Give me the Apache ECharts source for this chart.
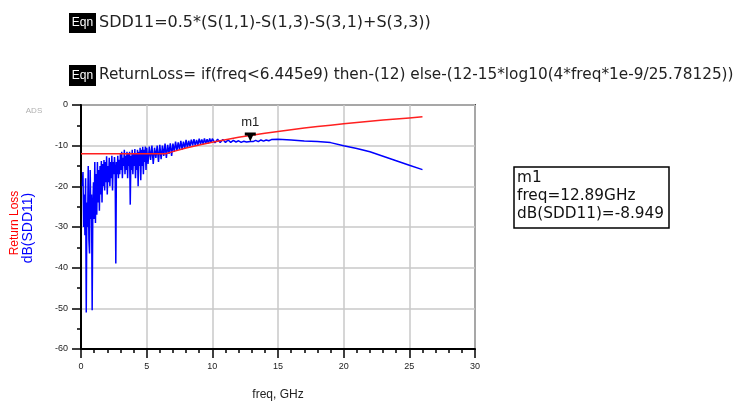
<!DOCTYPE html>
<html><head><meta charset="utf-8">
<script src="https://cdn.jsdelivr.net/npm/echarts@6/dist/echarts.min.js"></script>
<style>html,body{margin:0;padding:0;background:#fff}#c{width:741px;height:406px}</style>
</head><body><div id="c"></div>
<script>
// ---- text ----
const eqn1Text = 'SDD11=0.5*(S(1,1)-S(1,3)-S(3,1)+S(3,3))';
const eqn2Text = 'ReturnLoss= if(freq<6.445e9) then-(12) else-(12-15*log10(4*freq*1e-9/25.78125))';
const xAxisName = 'freq, GHz';
const yNameRed = 'Return Loss';
const yNameBlue = 'dB(SDD11)';
const markerLines = ['m1', 'freq=12.89GHz', 'dB(SDD11)=-8.949'];

// ---- axes ----
const xMin = 0, xMax = 30, xStep = 5;
const yMin = -60, yMax = 0, yStep = 10;

// ---- Return Loss (red) ----
const returnLossFreq = [0, 6.445, 7, 8, 9, 10, 11, 12, 13, 14, 15, 16, 17, 18, 19, 20, 21, 22, 23, 24, 25, 26];
const returnLossDb = [-12, -12, -11.46, -10.59, -9.83, -9.14, -8.52, -7.95, -7.43, -6.95, -6.50, -6.08, -5.68, -5.31, -4.96, -4.62, -4.31, -4.00, -3.71, -3.44, -3.17, -2.91];

// ---- dB(SDD11) (blue) ----
const sdd11Freq = [
  0.10,0.15,0.20,0.25,0.30,0.35,0.40,0.45,0.50,0.55,0.60,0.65,0.70,0.75,0.80,0.85,0.90,0.95,
  1.00,1.05,1.10,1.15,1.20,1.25,1.30,1.35,1.40,1.45,1.50,1.55,1.60,1.65,1.70,1.75,1.80,1.85,1.90,1.95,
  2.00,2.05,2.10,2.15,2.20,2.25,2.30,2.35,2.40,2.45,2.50,2.55,2.60,2.65,2.70,2.75,2.80,2.85,2.90,2.95,
  3.00,3.05,3.10,3.15,3.20,3.25,3.30,3.35,3.40,3.45,3.50,3.55,3.60,3.65,3.70,3.75,3.80,3.85,3.90,3.95,
  4.00,4.05,4.10,4.15,4.20,4.25,4.30,4.35,4.40,4.45,4.50,4.55,4.60,4.65,4.70,4.75,4.80,4.85,4.90,4.95,
  5.0,5.1,5.2,5.3,5.4,5.5,5.6,5.7,5.8,5.9,6.0,6.1,6.2,6.3,6.4,6.5,6.6,6.7,6.8,6.9,
  7.0,7.1,7.2,7.3,7.4,7.5,7.6,7.7,7.8,7.9,8.0,8.1,8.2,8.3,8.4,8.5,8.6,8.7,8.8,8.9,
  9.0,9.1,9.2,9.3,9.4,9.5,9.6,9.7,9.8,9.9,10.0,10.2,10.4,10.6,10.8,11.0,11.2,11.4,11.6,11.8,
  12.0,12.2,12.4,12.6,12.89,13.1,13.3,13.5,13.7,13.9,14.1,14.3,14.5,15,16,17,18,19,20,21,22,23,24,25,26
];
const sdd11Db = [
  -20,-16.5,-30,-22,-32,-18,-51,-24,-30,-15,-33,-36.5,-16,-28,-22,-50.5,-25,-19,
  -28,-14,-29,-17,-27,-14,-24,-16,-26,-15,-22,-13.8,-24,-14.5,-20,-13.5,-21,-14,-19,-12.6,
  -22,-15,-19,-13,-20,-14,-18,-12.5,-21,-14,-17,-12.8,-16,-39,-14,-17,-12.5,-18,-13.5,-17,
  -12,-16,-11.5,-18,-13,-15,-11,-17,-12.5,-16,-11.5,-18,-12,-15,-11.5,-24.5,-12.5,-16,-11,-17,
  -12,-15,-10.8,-18,-12,-16,-11,-20,-11.5,-15,-10.5,-18.5,-11,-15,-10.3,-17,-11,-14,-10.2,-16,
  -10.5,-14.5,-10.2,-13.5,-10,-14.5,-10.5,-13,-10,-14,-9.8,-13.3,-10,-12.5,-9.5,-13,-9.8,-12,-9.4,-12.5,
  -9.5,-11.5,-9,-11.3,-9.2,-11,-8.8,-11,-9,-10.6,-8.6,-10.5,-8.8,-10.2,-8.5,-10,-8.4,-10,-8.6,-9.8,
  -8.3,-9.6,-8.5,-9.6,-8.2,-9.5,-8.4,-9.4,-8.2,-9.3,-8.3,-9.3,-8.4,-9.2,-8.5,-9.2,-8.6,-9.2,-8.7,-9.1,
  -8.8,-9.2,-8.9,-9.1,-8.949,-9.0,-8.7,-9.0,-8.6,-8.9,-8.6,-8.8,-8.5,-8.45,-8.6,-8.85,-9.0,-9.25,-10.0,-10.7,-11.5,-12.6,-13.7,-14.8,-15.9
];
const markerFreq = 12.89, markerDb = -8.949;

const zip = (a, b) => a.map((v, i) => [v, b[i]]);
const FONT = 'Liberation Sans, Arial, sans-serif';
const WIDE = 'DejaVu Sans, sans-serif';

const chart = echarts.init(document.getElementById('c'), null, {renderer: 'canvas'});
const axisCommon = {
  axisLine: {show: true, onZero: false, lineStyle: {color: '#000', width: 2}},
  axisTick: {show: true, inside: false, length: 9, lineStyle: {color: '#000', width: 1.5}},
  minorTick: {show: true, splitNumber: 2, length: 4, lineStyle: {color: '#000', width: 1.5}},
  splitLine: {show: true, lineStyle: {color: '#c8c8c8', width: 1.5}},
  axisLabel: {fontFamily: FONT, fontSize: 9, color: '#222', margin: 13}
};
chart.setOption({
  animation: false,
  backgroundColor: '#fff',
  grid: {left: 81, top: 105, width: 394, height: 248, show: true, borderColor: '#444', borderWidth: 2, backgroundColor: 'transparent'},
  xAxis: Object.assign({}, axisCommon, {
    type: 'value', min: xMin, max: xMax, interval: xStep,
    minorTick: Object.assign({}, axisCommon.minorTick, {splitNumber: 5}),
    name: xAxisName, nameLocation: 'middle', nameGap: 40,
    nameTextStyle: {fontFamily: FONT, fontSize: 12, color: '#222'}
  }),
  yAxis: Object.assign({}, axisCommon, {
    type: 'value', min: yMin, max: yMax, interval: yStep
  }),
  series: [
    {
      name: 'Return Loss', type: 'line', data: zip(returnLossFreq, returnLossDb),
      showSymbol: false, symbol: 'none', lineStyle: {color: '#ff2020', width: 1.5}, z: 3
    },
    {
      name: 'dB(SDD11)', type: 'line', data: zip(sdd11Freq, sdd11Db),
      showSymbol: false, symbol: 'none', lineStyle: {color: '#0000ff', width: 1.5}, z: 2,
      markPoint: {
        symbol: 'path://M0,0L12,0L12,3L9,3L6,9L3,3L0,3Z',
        symbolSize: [11, 9], symbolOffset: [0, '-50%'],
        itemStyle: {color: '#000'},
        label: {show: true, formatter: markerLines[0], position: 'top', distance: 3,
                color: '#222', fontSize: 13, fontFamily: FONT},
        data: [{coord: [markerFreq, markerDb]}]
      }
    }
  ],
  graphic: [
    {type: 'rect', shape: {x: 69, y: 13, width: 27, height: 20}, style: {fill: '#000'}},
    {type: 'text', x: 82.5, y: 23, style: {text: 'Eqn', fill: '#fff', font: '12px ' + FONT, align: 'center', verticalAlign: 'middle'}},
    {type: 'text', x: 99, y: 23, style: {text: eqn1Text, fill: '#222', font: '16px ' + WIDE, verticalAlign: 'middle'}},
    {type: 'rect', shape: {x: 69, y: 65, width: 27, height: 21}, style: {fill: '#000'}},
    {type: 'text', x: 82.5, y: 75.5, style: {text: 'Eqn', fill: '#fff', font: '12px ' + FONT, align: 'center', verticalAlign: 'middle'}},
    {type: 'text', x: 99, y: 75.5, style: {text: eqn2Text, fill: '#222', font: '15.3px ' + WIDE, verticalAlign: 'middle'}},
    {type: 'text', x: 34, y: 111, style: {text: 'ADS', fill: '#b0b0b0', font: '8px ' + FONT, align: 'center', verticalAlign: 'middle'}},
    {type: 'text', x: 15, y: 223, rotation: Math.PI / 2, style: {text: yNameRed, fill: '#ff0000', font: '12px ' + FONT, align: 'center', verticalAlign: 'middle'}},
    {type: 'text', x: 28, y: 228, rotation: Math.PI / 2, style: {text: yNameBlue, fill: '#0000ff', font: '14px ' + FONT, align: 'center', verticalAlign: 'middle'}},
    {type: 'rect', shape: {x: 514, y: 167, width: 155, height: 61}, style: {fill: '#fff', stroke: '#000', lineWidth: 1.5}},
    {type: 'text', x: 517, y: 178, style: {text: markerLines[0], fill: '#111', font: '15.3px ' + WIDE, verticalAlign: 'middle'}},
    {type: 'text', x: 517, y: 196, style: {text: markerLines[1], fill: '#111', font: '15.3px ' + WIDE, verticalAlign: 'middle'}},
    {type: 'text', x: 517, y: 214, style: {text: markerLines[2], fill: '#111', font: '15.3px ' + WIDE, verticalAlign: 'middle'}}
  ]
});
</script></body></html>
